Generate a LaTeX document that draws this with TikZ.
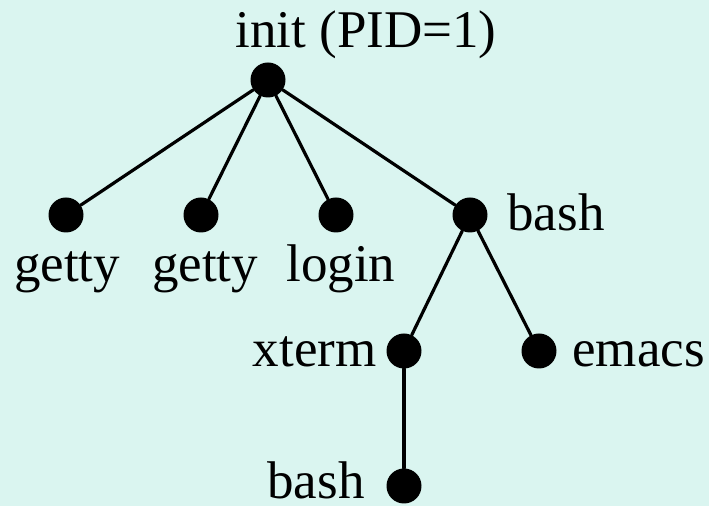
\documentclass[tikz,border=0pt]{standalone}
\usepackage{fontspec}
\setmainfont{Liberation Serif}

\begin{document}
\begin{tikzpicture}[x=0.5pt,y=-0.5pt,line cap=round,line join=round,
  proc/.style={circle,fill=black,inner sep=0pt,minimum size=17.5pt},
  plabel/.style={font=\fontsize{26.5}{30}\selectfont,text=black,inner sep=0pt},
  edge/.style={line width=1.6pt,black}]
  \definecolor{bgcol}{RGB}{218,245,240}

  % background
  \fill[bgcol] (0,0) rectangle (709,506);

  % ---- process nodes ----
  \node[proc] (init) at (268,80) {};
  \node[proc] (getty1) at (66,215) {};
  \node[proc] (getty2) at (201,215) {};
  \node[proc] (login) at (336,215) {};
  \node[proc] (bash1) at (470,215) {};
  \node[proc] (xterm) at (404,351) {};
  \node[proc] (emacs) at (539,351) {};
  \node[proc] (bash2) at (404,486) {};

  % ---- names ----
  \node[plabel,anchor=base west] (tinit) at (235,48) {init (PID=1)};
  \node[plabel,anchor=base] (tgetty1) at (67,282) {getty};
  \node[plabel,anchor=base] (tgetty2) at (205,282) {getty};
  \node[plabel,anchor=base] (tlogin) at (341,282) {login};
  \node[plabel,anchor=base west] (tbash1) at (507,231) {bash};
  \node[plabel,anchor=base east] (txterm) at (377,367) {xterm};
  \node[plabel,anchor=base west] (temacs) at (572,367) {emacs};
  \node[plabel,anchor=base east] (tbash2) at (365,499) {bash};

  % ---- parent/child links ----
  \draw[edge] (init) -- (getty1);
  \draw[edge] (init) -- (getty2);
  \draw[edge] (init) -- (login);
  \draw[edge] (init) -- (bash1);
  \draw[edge] (bash1) -- (xterm);
  \draw[edge] (bash1) -- (emacs);
  \draw[edge] (xterm) -- (bash2);
\end{tikzpicture}
\end{document}
